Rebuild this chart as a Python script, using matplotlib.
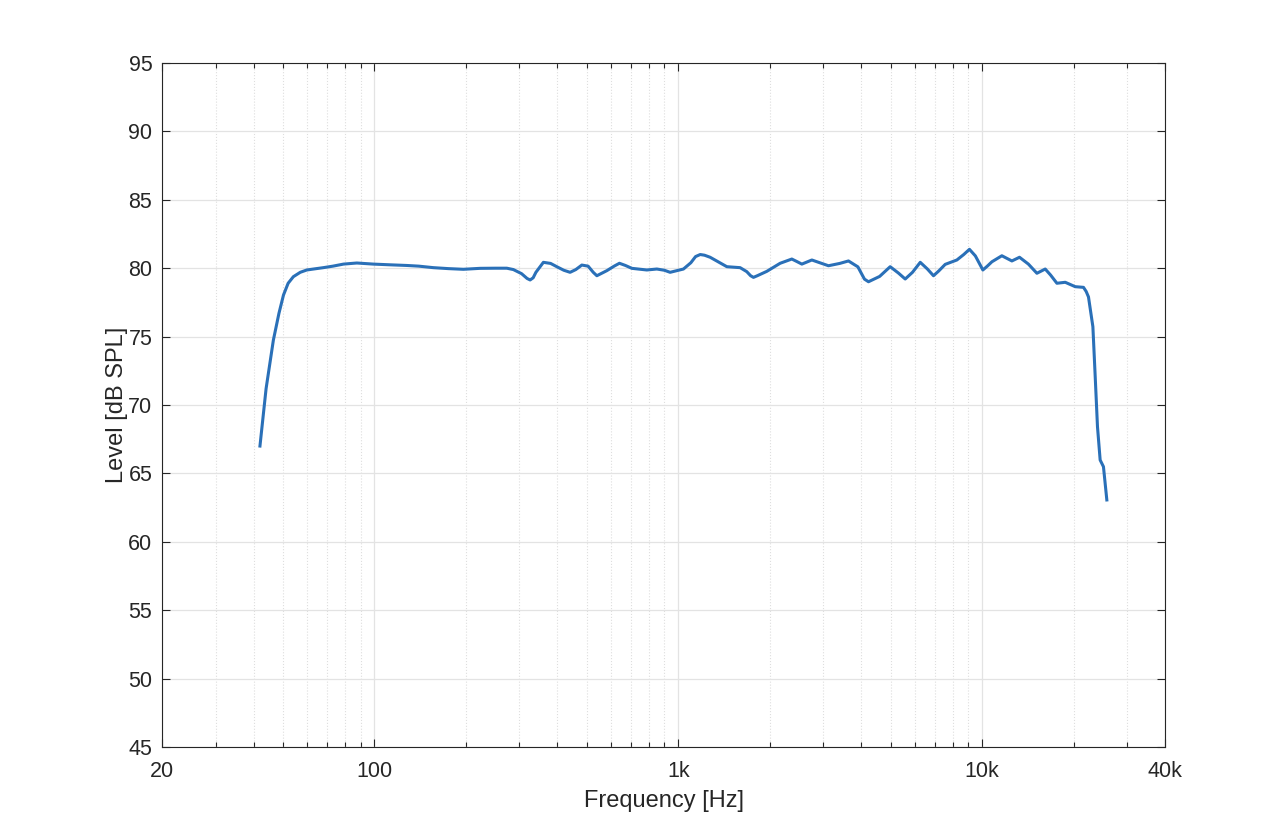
import matplotlib.pyplot as plt
from matplotlib.ticker import FixedLocator, NullFormatter, LogLocator

plt.rcParams['font.family'] = ['Liberation Sans', 'DejaVu Sans']

# frequency response
freq = [42.0, 44.0, 46.5, 48.5, 50.2, 52.0, 54.1, 57.0, 59.9, 63.5, 67.9, 73.0, 79.1,
        87.5, 99.2, 112.0, 127.8, 140.0, 156.3, 175.0, 196.2, 222.7, 250.0, 272.7,
        286.6, 305.0, 318.0, 325.4, 333.0, 340.0, 359.8, 380.0, 398.3, 420.0, 440.5,
        460.0, 481.5, 505.0, 525.0, 539.6, 581.9, 615.0, 640.2, 670.0, 703.5, 787.9,
        850.0, 900.0, 940.0, 1040.0, 1100.0, 1140.0, 1181.0, 1220.0, 1273.0, 1445.0,
        1598.0, 1680.0, 1730.0, 1768.0, 1820.0, 1956.0, 2164.0, 2364.0, 2450.0, 2551.0,
        2752.0, 3121.0, 3400.0, 3632.0, 3900.0, 4100.0, 4227.0, 4600.0, 4982.0, 5300.0,
        5583.0, 5900.0, 6257.0, 6600.0, 6917.0, 7200.0, 7559.0, 8258.0, 8700.0, 9084.0,
        9500.0, 10057.0, 10400.0, 10770.0, 11614.0, 12531.0, 13275.0, 14200.0, 15146.0,
        16132.0, 16800.0, 17624.0, 18775.0, 20245.0, 21559.0, 22000.0, 22390.0, 23150.0,
        23560.0, 23970.0, 24460.0, 25080.0, 25730.0]
level = [67.0, 71.2, 74.75, 76.7, 78.04, 78.9, 79.38, 79.7, 79.87, 79.95, 80.04, 80.15,
         80.3, 80.38, 80.3, 80.25, 80.2, 80.15, 80.04, 79.97, 79.92, 79.99, 80.0, 80.0,
         79.9, 79.6, 79.25, 79.14, 79.3, 79.7, 80.43, 80.35, 80.11, 79.85, 79.7,
         79.9, 80.23, 80.15, 79.7, 79.45, 79.82, 80.15, 80.36, 80.2, 79.99, 79.87,
         79.94, 79.85, 79.7, 79.94, 80.4, 80.85, 81.0, 80.95, 80.8, 80.11,
         80.04, 79.75, 79.45, 79.33, 79.45, 79.77, 80.36, 80.67, 80.5, 80.3,
         80.6, 80.18, 80.35, 80.53, 80.1, 79.2, 79.01, 79.4, 80.11, 79.65,
         79.21, 79.7, 80.43, 79.95, 79.45, 79.8, 80.28, 80.6, 81.0, 81.38,
         80.9, 79.87, 80.15, 80.47, 80.91, 80.53, 80.8, 80.3, 79.63,
         79.94, 79.5, 78.9, 78.97, 78.65, 78.6, 78.3, 77.9, 75.72,
         72.07, 68.41, 65.98, 65.49, 63.06]

xticks = [20, 100, 1000, 10000, 40000]
xticklabels = ['20', '100', '1k', '10k', '40k']
yticks = list(range(45, 100, 5))

fig = plt.figure(figsize=(12.8, 8.4), dpi=100)
ax = fig.add_axes([0.1266, 0.1107, 0.7836, 0.8143])

ax.semilogx(freq, level, color='#2a70b8', linewidth=2.2, zorder=3,
            solid_joinstyle='round')

ax.set_xlim(20, 40000)
ax.set_ylim(45, 95)
ax.xaxis.set_major_locator(FixedLocator(xticks))
ax.set_xticklabels(xticklabels)
ax.xaxis.set_minor_locator(LogLocator(base=10, subs=range(2, 10), numticks=20))
ax.xaxis.set_minor_formatter(NullFormatter())
ax.set_yticks(yticks)

ax.grid(True, which='major', color='#e3e3e3', linewidth=0.9, linestyle='-')
ax.grid(True, which='minor', axis='x', color='#dedede', linewidth=0.8, linestyle=':')
ax.set_axisbelow(True)

ax.tick_params(which='both', direction='in', top=True, right=True, colors='#262626',
               labelsize=15.5, width=0.8)
ax.tick_params(which='major', length=6)
ax.tick_params(which='minor', length=3.5)
ax.tick_params(axis='x', which='major', pad=10)
ax.tick_params(axis='y', which='major', pad=7)
for s in ax.spines.values():
    s.set_color('#262626')
    s.set_linewidth(0.8)

ax.set_xlabel('Frequency [Hz]', fontsize=17, color='#262626', labelpad=6)
ax.set_ylabel('Level [dB SPL]', fontsize=17, color='#262626', labelpad=0)

fig.savefig('out.png', dpi=100, facecolor='white')
